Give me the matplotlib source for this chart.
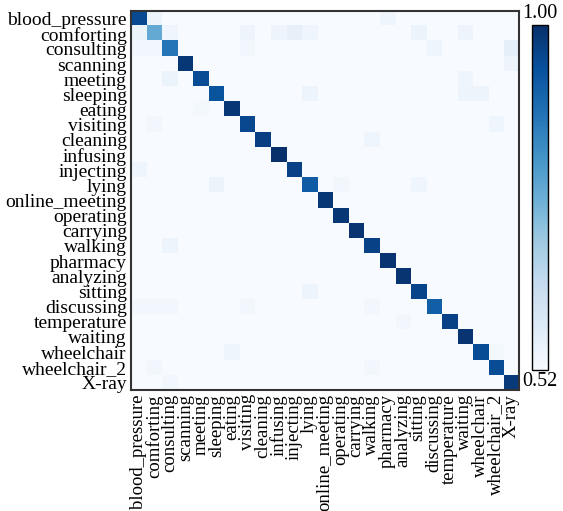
import numpy as np
import matplotlib
matplotlib.use('Agg')
import matplotlib.pyplot as plt

# Classi della matrice di confusione
labels = ['blood_pressure', 'comforting', 'consulting', 'scanning', 'meeting',
          'sleeping', 'eating', 'visiting', 'cleaning', 'infusing', 'injecting',
          'lying', 'online_meeting', 'operating', 'carrying', 'walking',
          'pharmacy', 'analyzing', 'sitting', 'discussing', 'temperature',
          'waiting', 'wheelchair', 'wheelchair_2', 'X-ray']

# Valori sulla diagonale (accuratezza per classe)
diag_vals = [0.90, 0.52, 0.73, 0.97, 0.89, 0.86, 0.97, 0.91, 0.94, 1.00,
             0.93, 0.83, 0.97, 0.97, 0.98, 0.93, 0.98, 0.98, 0.92, 0.82,
             0.93, 0.98, 0.89, 0.89, 0.96]

# Valori fuori diagonale (riga, colonna, valore)
off_rows = [0, 0, 1, 1, 1, 1, 1, 1, 1, 1, 2, 2, 2, 2, 2, 3, 4, 4, 5, 5, 5,
            6, 7, 7, 8, 10, 11, 11, 11, 15, 18, 19, 19, 19, 19, 19, 20,
            22, 22, 23, 23, 24]
off_cols = [1, 16, 0, 2, 7, 9, 10, 11, 18, 21, 0, 1, 7, 19, 24, 24, 2, 21,
            11, 21, 22, 4, 1, 23, 15, 0, 5, 13, 18, 2, 11, 0, 1, 2, 7, 15,
            17, 6, 23, 1, 15, 2]
off_vals = [0.06, 0.04, 0.06, 0.04, 0.05, 0.05, 0.08, 0.04, 0.06, 0.05,
            0.03, 0.03, 0.03, 0.04, 0.09, 0.05, 0.06, 0.04, 0.05, 0.05, 0.05,
            0.02, 0.03, 0.04, 0.04, 0.04, 0.06, 0.03, 0.04, 0.05, 0.05, 0.03,
            0.03, 0.03, 0.03, 0.03, 0.03, 0.04, 0.02, 0.03, 0.03, 0.03]

n = len(labels)
cm = np.zeros((n, n))
cm[np.arange(n), np.arange(n)] = diag_vals
cm[off_rows, off_cols] = off_vals

plt.rcParams['font.family'] = ['Liberation Serif', 'DejaVu Serif']

fig = plt.figure(figsize=(5.63, 5.11), dpi=100)
ax = fig.add_axes([0.2327, 0.2368, 0.6893, 0.7417])
im = ax.imshow(cm, cmap='Blues', vmin=0, vmax=1, aspect='auto',
               interpolation='nearest')

ax.set_xticks(np.arange(n))
ax.set_yticks(np.arange(n))
ax.set_xticklabels(labels, rotation=90, fontsize=13.5)
ax.set_yticklabels(labels, fontsize=14)
ax.tick_params(length=0, pad=3)
for s in ax.spines.values():
    s.set_linewidth(1.5)
    s.set_color('#333333')

# Barra dei colori con etichette agli estremi
cax = fig.add_axes([0.945, 0.276, 0.028, 0.675])
cb = fig.colorbar(im, cax=cax)
cb.set_ticks([])
cb.outline.set_linewidth(1)
cax.text(0.5, 1.005, '%.2f' % max(diag_vals), transform=cax.transAxes,
         ha='center', va='bottom', fontsize=14.5)
cax.text(0.5, -0.005, '%.2f' % min(diag_vals), transform=cax.transAxes,
         ha='center', va='top', fontsize=14.5)

fig.savefig('out.png', dpi=100)
